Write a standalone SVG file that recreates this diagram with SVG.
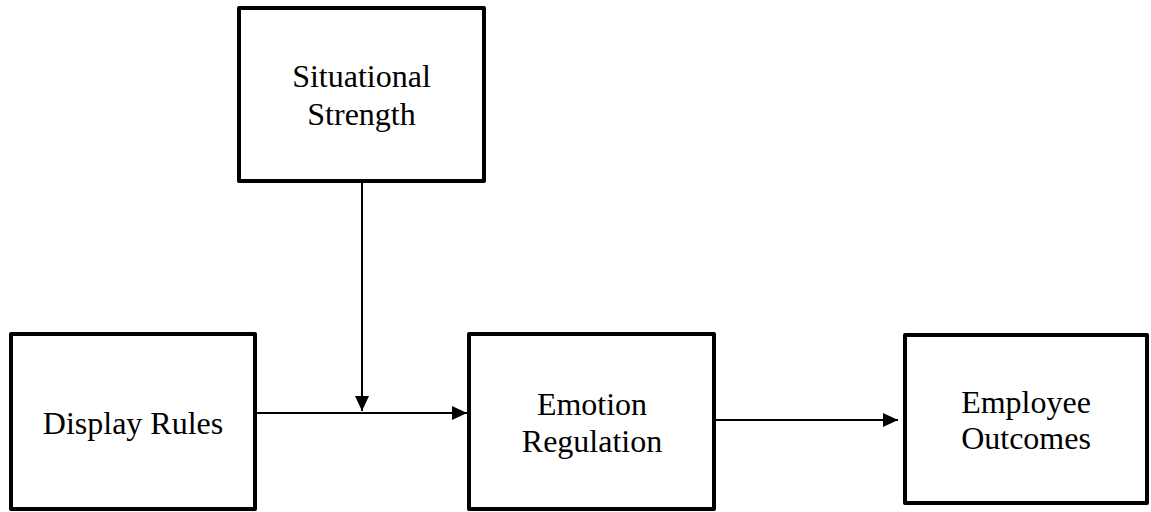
<svg xmlns="http://www.w3.org/2000/svg" width="1151" height="512" viewBox="0 0 1151 512">
<style>
.box{fill:#fff;stroke:#000;stroke-width:4;stroke-linejoin:round}
.lbl{font-family:"Liberation Serif","Times New Roman",serif;font-size:32px;fill:#000;text-anchor:middle}
.conn{stroke:#000;stroke-width:2;fill:none}
</style>
<defs>
<marker id="arr" markerUnits="userSpaceOnUse" markerWidth="15" markerHeight="14" refX="15" refY="7" orient="auto">
<path d="M0,0 L15,7 L0,14 Z" fill="#000"/>
</marker>
</defs>
<rect width="1151" height="512" fill="#fff"/>
<g id="connectors">
<line class="conn" x1="362" y1="183" x2="362" y2="411" marker-end="url(#arr)"/>
<line class="conn" x1="257" y1="413" x2="467" y2="413" marker-end="url(#arr)"/>
<line class="conn" x1="716" y1="420" x2="898" y2="420" marker-end="url(#arr)"/>
</g>
<g id="situational-strength">
<rect class="box" x="239" y="8" width="245" height="173"/>
<text class="lbl" x="361.5" y="87">Situational</text>
<text class="lbl" x="361.5" y="125">Strength</text>
</g>
<g id="display-rules">
<rect class="box" x="11" y="334" width="244" height="175"/>
<text class="lbl" x="133" y="434">Display Rules</text>
</g>
<g id="emotion-regulation">
<rect class="box" x="469" y="334" width="245" height="175"/>
<text class="lbl" x="592" y="415">Emotion</text>
<text class="lbl" x="592" y="452">Regulation</text>
</g>
<g id="employee-outcomes">
<rect class="box" x="905" y="335" width="242" height="168"/>
<text class="lbl" x="1026" y="413">Employee</text>
<text class="lbl" x="1026" y="449">Outcomes</text>
</g>
</svg>
